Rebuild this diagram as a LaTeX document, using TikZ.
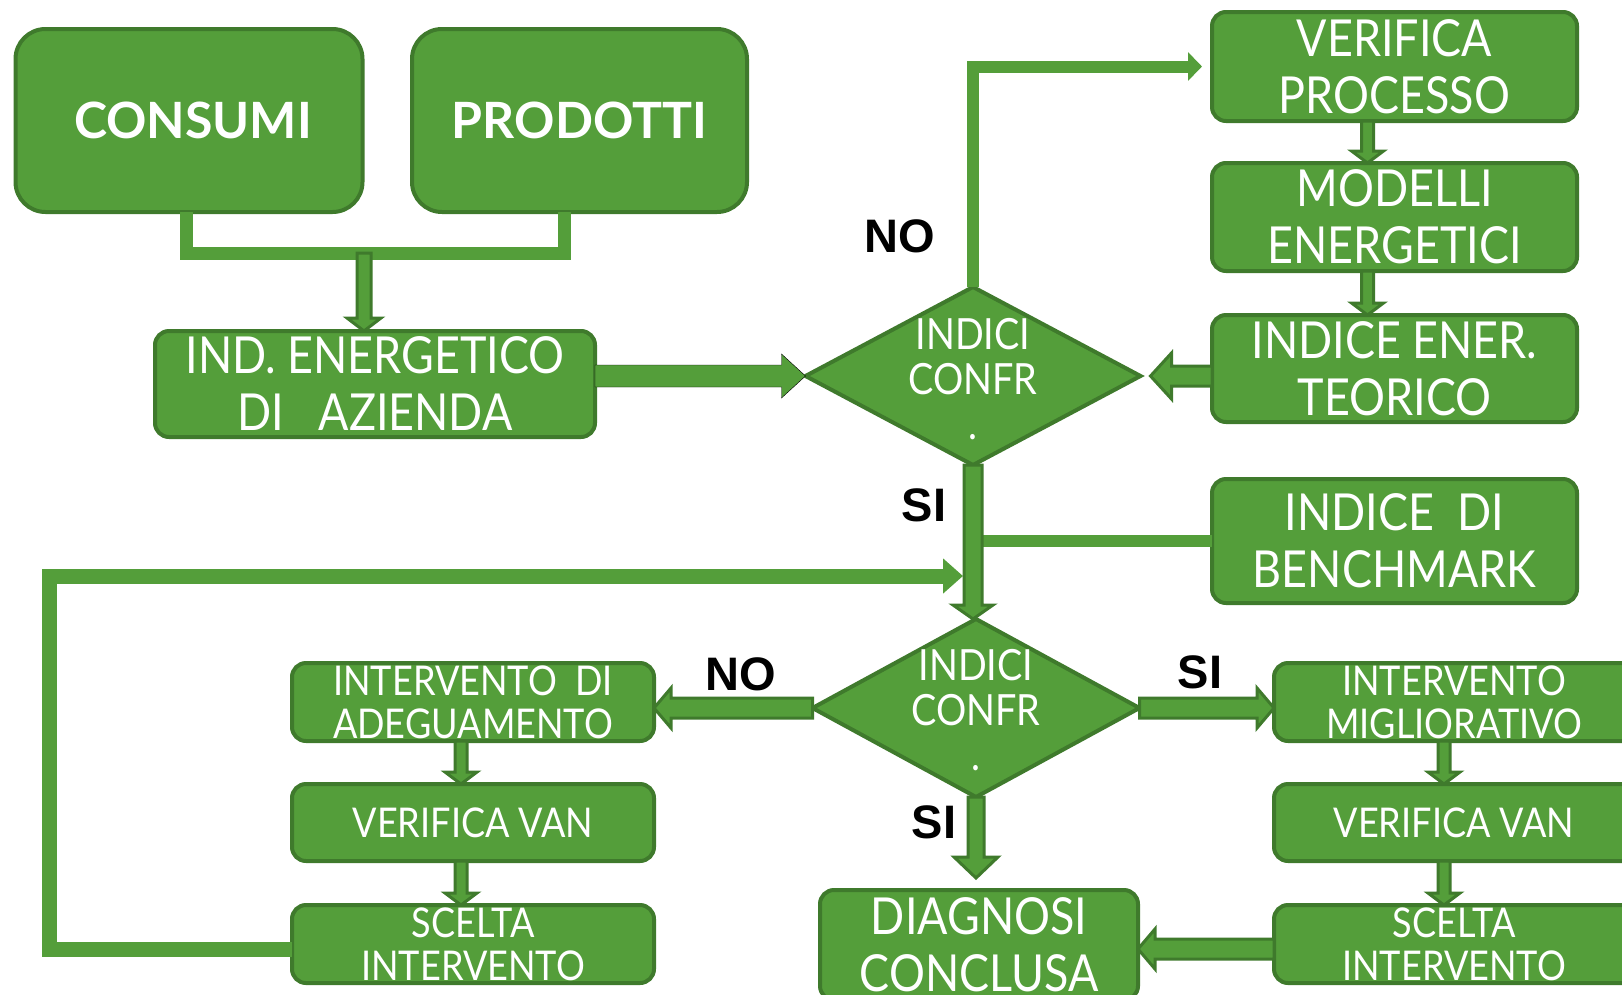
\documentclass[tikz,border=0pt]{standalone}
\usepackage{fontspec}
\setmainfont{Lato}
\newfontfamily\gill[FakeStretch=0.88]{Lato}
\newfontfamily\lblfont{Liberation Sans}
\usetikzlibrary{shapes.geometric,calc,arrows.meta}
\definecolor{gfill}{RGB}{84,158,58}
\definecolor{gdark}{RGB}{63,122,44}
\newcommand\barrow[6][oarrow]{%
  \coordinate (ba-s) at (#2);
  \coordinate (ba-t) at (#3);
  \coordinate (ba-h) at ($(ba-t)!#6!(ba-s)$);
  \draw[#1] ($(ba-s)!#4!90:(ba-t)$) -- ($(ba-h)!#4!90:(ba-t)$) -- ($(ba-h)!#5!90:(ba-t)$) -- (ba-t) -- ($(ba-h)!#5!-90:(ba-t)$) -- ($(ba-h)!#4!-90:(ba-t)$) -- ($(ba-s)!#4!-90:(ba-t)$) -- cycle;
}
\begin{document}
\begin{tikzpicture}[x=1pt,y=-1pt,
  gbox/.style={draw=gdark, fill=gfill, line width=4pt, rounded corners=14pt, inner sep=0pt, outer sep=0pt},
  gdiam/.style={diamond, draw=gdark, fill=gfill, line width=4pt, inner sep=0pt, outer sep=0pt},
  txt/.style={text=white, align=center, inner sep=0pt},
  toptxt/.style={txt, font=\fontsize{50}{56}\selectfont\bfseries},
  bigtxt/.style={txt, font=\gill\fontsize{51}{57}\selectfont},
  dtxt/.style={txt, font=\gill\fontsize{43}{45}\selectfont},
  smtxt/.style={txt, font=\gill\fontsize{41}{43}\selectfont},
  lbl/.style={inner sep=0pt, font=\lblfont\fontsize{47}{50}\selectfont\bfseries},
  oarrow/.style={draw=gdark, fill=gfill, line width=3pt, line join=miter},
  sarrow/.style={fill=gfill},
  sline/.style={draw=gfill, line width=13pt},
]
\useasboundingbox (0,0) rectangle (1622,994);

% boxes
\node[gbox, rounded corners=30pt, minimum width=347pt, minimum height=183pt] (consumi) at (189,120.5) {};
\node[gbox, rounded corners=30pt, minimum width=335pt, minimum height=183pt] (prodotti) at (579.5,120.5) {};
\node[gbox, minimum width=440pt, minimum height=106pt] (ind) at (375,384) {};
\node[gbox, minimum width=365pt, minimum height=109pt] (vp) at (1394.5,66.5) {};
\node[gbox, minimum width=365pt, minimum height=108pt] (me) at (1394.5,217) {};
\node[gbox, minimum width=365pt, minimum height=107pt] (iet) at (1394.5,368.5) {};
\node[gbox, minimum width=365pt, minimum height=124pt] (bm) at (1394.5,541) {};
\node[gbox, minimum width=362pt, minimum height=78pt] (ia) at (473,702) {};
\node[gbox, minimum width=362pt, minimum height=77pt] (vl) at (473,822.5) {};
\node[gbox, minimum width=362pt, minimum height=78pt] (sl) at (473,944) {};
\node[gbox, minimum width=366pt, minimum height=78pt] (im) at (1457,702) {};
\node[gbox, minimum width=366pt, minimum height=77pt] (vr) at (1457,822.5) {};
\node[gbox, minimum width=366pt, minimum height=78pt] (sr) at (1457,944) {};
\node[gbox, minimum width=318pt, minimum height=110pt] (dc) at (979,945) {};
\node[gdiam, minimum width=335pt, minimum height=178pt] (d1) at (973,376) {};
\node[gdiam, minimum width=327pt, minimum height=178pt] (d2) at (976,708) {};

% texts
\node[toptxt] (consumi-t) at ([xshift=4pt]consumi.center) {CONSUMI};
\node[toptxt] (prodotti-t) at (prodotti) {PRODOTTI};
\node[bigtxt] (ind-t) at (ind) {IND. ENERGETICO\\DI\ \ \ AZIENDA};
\node[bigtxt] (vp-t) at (vp) {VERIFICA\\PROCESSO};
\node[bigtxt] (me-t) at (me) {MODELLI\\ENERGETICI};
\node[bigtxt] (iet-t) at (iet) {INDICE ENER.\\TEORICO};
\node[bigtxt] (bm-t) at (bm) {INDICE\ \ DI\\BENCHMARK};
\node[bigtxt] (dc-t) at (dc) {DIAGNOSI\\CONCLUSA};
\node[dtxt] (d1-t) at ([yshift=-3pt]d1.center) {INDICI\\CONFR\\.};
\node[dtxt] (d2-t) at ([yshift=-2pt]d2.center) {INDICI\\CONFR\\.};
\node[smtxt] (ia-t) at (ia) {INTERVENTO\ \ DI\\ADEGUAMENTO};
\node[smtxt] (vl-t) at (vl) {VERIFICA VAN};
\node[smtxt] (sl-t) at (sl) {SCELTA\\INTERVENTO};
\node[smtxt] (im-t) at ([xshift=-3pt]im.center) {INTERVENTO\\MIGLIORATIVO};
\node[smtxt] (vr-t) at ([xshift=-3pt]vr.center) {VERIFICA VAN};
\node[smtxt] (sr-t) at ([xshift=-3pt]sr.center) {SCELTA\\INTERVENTO};

% labels
\node[lbl] (no1) at (900,236) {NO};
\node[lbl] (si1) at (924,505) {SI};
\node[lbl] (no2) at (741,674) {NO};
\node[lbl] (si2) at (1200,672) {SI};
\node[lbl] (si3) at (934,822) {SI};

% connectors
\coordinate (bj) at (364,253);
\draw[sline] ([xshift=-3pt]consumi.south) |- (bj) -| ([xshift=-15pt]prodotti.south);
\barrow{bj}{bj |- ind.north}{7pt}{17pt}{13pt}
\barrow[sarrow]{d1.west -| ind.east}{d1.west}{11pt}{22pt}{24pt}
\draw[sline, line width=12pt, -{Triangle[length=14pt,width=28pt]}] (d1.north) |- ([xshift=-10pt]vp.west);
\barrow{[xshift=-27pt]vp.south}{[xshift=-27pt]me.north}{6pt}{16pt}{12pt}
\barrow{[xshift=-27pt]me.south}{[xshift=-27pt]iet.north}{6pt}{16pt}{12pt}
\coordinate (ietw) at (d1.east -| iet.west);
\barrow{ietw}{[xshift=10pt]d1.east}{10pt}{23pt}{21pt}
\draw[sline, line width=12pt] (bm.west) -- (bm.west -| d1.south);
\coordinate (lc) at (49,576);
\coordinate (lp) at (963,576);
\draw[sline, line width=15pt, -{Triangle[length=20pt,width=34pt]}] ([yshift=-5pt]sl.west) -| (lc) -- (lp);
\barrow{d1.south}{d1.south |- d2.north}{9pt}{20pt}{14pt}
\barrow{d2.west}{d2.west -| ia.east}{10pt}{20pt}{17pt}
\barrow{d2.east}{d2.east -| im.west}{10pt}{20pt}{17pt}
\coordinate (dcn) at (d2.south |- dc.north);
\barrow{d2.south}{[yshift=12pt]dcn}{8pt}{22pt}{21pt}
\coordinate (srw) at ([yshift=-5pt]sr.west);
\barrow{srw}{srw -| dc.east}{10pt}{20pt}{17pt}
\barrow{[xshift=-12pt]ia.south}{[xshift=-12pt]vl.north}{6pt}{16pt}{12pt}
\barrow{[xshift=-12pt]vl.south}{[xshift=-12pt]sl.north}{6pt}{16pt}{12pt}
\barrow{[xshift=-13pt]im.south}{[xshift=-13pt]vr.north}{6pt}{16pt}{12pt}
\barrow{[xshift=-13pt]vr.south}{[xshift=-13pt]sr.north}{6pt}{16pt}{12pt}
\end{tikzpicture}
\end{document}
